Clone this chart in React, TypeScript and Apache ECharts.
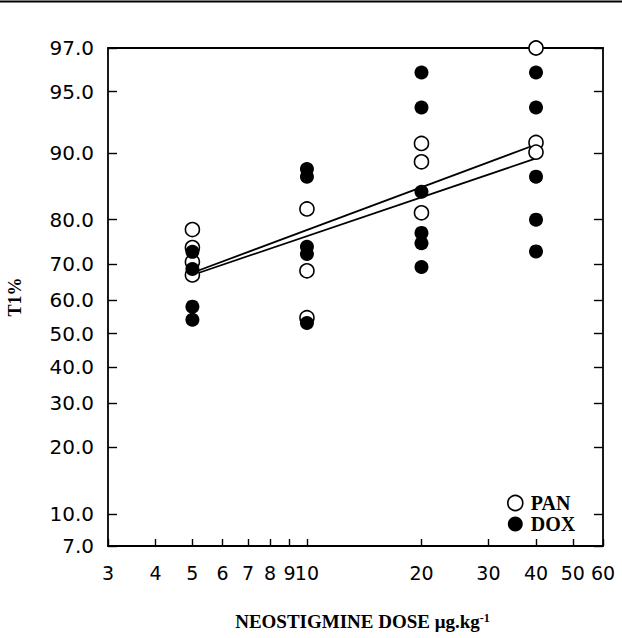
import React, { useEffect, useRef } from 'react';
import * as echarts from 'echarts';

// Axis ticks
const doseTicks = [3, 4, 5, 6, 7, 8, 9, 10, 20, 30, 40, 50, 60];
const percentTicks = [7, 10, 20, 30, 40, 50, 60, 70, 80, 90, 95, 97];

// PAN (open circles)
const panDoses = [5, 5, 5, 5, 10, 10, 10, 20, 20, 20, 40, 40, 40];
const panT1 = [78.0, 74.0, 70.5, 67.1, 82.0, 68.2, 54.8, 91.0, 89.0, 81.3, 97.0, 91.1, 90.1];

// DOX (filled circles)
const doxDoses = [5, 5, 5, 5, 10, 10, 10, 10, 10, 20, 20, 20, 20, 20, 20, 40, 40, 40, 40, 40];
const doxT1 = [73.0, 68.7, 58.1, 54.2, 88.1, 87.1, 74.2, 72.5, 53.2, 96.0, 94.0, 84.9, 77.3, 75.0, 69.2, 96.0, 94.0, 87.1, 80.0, 73.1];

// Fitted lines
const fitDoses = [5, 40];
const panFitT1 = [67.7, 90.9];
const doxFitT1 = [67.1, 89.4];

const logit = (p: number) => Math.log(p / (100 - p));
const invLogit = (v: number) => 100 / (1 + Math.exp(-v));
const lg = (d: number) => Math.log10(d);

const SERIF = "'Liberation Serif', 'Times New Roman', serif";
const SANS = "'DejaVu Sans', sans-serif";

export default function App() {
  const ref = useRef<HTMLDivElement>(null);
  useEffect(() => {
    document.body.style.margin = '0';
    const chart = echarts.init(ref.current!, null, { renderer: 'svg' });
    const yTickVals = percentTicks.map(logit);
    const xTickVals = doseTicks.map(lg);
    const pts = (ds: number[], ps: number[]) => ds.map((d, i) => [lg(d), logit(ps[i])]);
    const axisLine = { show: true, onZero: false, lineStyle: { color: '#000', width: 1.8 } };
    const option: any = {
      animation: false,
      backgroundColor: '#fff',
      grid: { left: 108, right: 19, top: 48, bottom: 92, containLabel: false, outerBoundsMode: 'none' },
      graphic: [
        { type: 'line', shape: { x1: 0, y1: 1.5, x2: 622, y2: 1.5 }, style: { stroke: '#000', lineWidth: 2 } },
      ],
      xAxis: [
        {
          type: 'value',
          min: lg(3),
          max: lg(60),
          position: 'bottom',
          axisLine,
          splitLine: { show: false },
          axisTick: { show: true, inside: true, length: 7, customValues: xTickVals, lineStyle: { color: '#000', width: 1.4 } },
          axisLabel: {
            show: true,
            customValues: xTickVals,
            hideOverlap: false,
            margin: 17,
            color: '#000',
            fontFamily: SANS,
            fontSize: 19,
            formatter: (v: number) => String(Math.round(Math.pow(10, v))),
          },
          name: 'NEOSTIGMINE DOSE μg.kg{sup|-1}',
          nameLocation: 'middle',
          nameGap: 66,
          nameTextStyle: {
            fontFamily: SERIF,
            fontWeight: 'bold',
            fontSize: 19,
            color: '#000',
            padding: [0, 0, 0, 14],
            rich: {
              sup: { fontFamily: SERIF, fontWeight: 'bold', fontSize: 12, color: '#000', verticalAlign: 'top', lineHeight: 12 },
            },
          },
        },
        {
          type: 'value',
          min: lg(3),
          max: lg(60),
          position: 'top',
          axisLine,
          splitLine: { show: false },
          axisTick: { show: false },
          axisLabel: { show: false },
        },
      ],
      yAxis: [
        {
          type: 'value',
          min: logit(7),
          max: logit(97),
          position: 'left',
          axisLine,
          splitLine: { show: false },
          axisTick: { show: true, inside: true, length: 9, customValues: yTickVals, lineStyle: { color: '#000', width: 1.4 } },
          axisLabel: {
            show: true,
            customValues: yTickVals,
            hideOverlap: false,
            margin: 14,
            color: '#000',
            fontFamily: SANS,
            fontSize: 20,
            formatter: (v: number) => invLogit(v).toFixed(1),
          },
          name: 'T1%',
          nameLocation: 'middle',
          nameGap: 84,
          nameTextStyle: { fontFamily: SERIF, fontWeight: 'bold', fontSize: 18, color: '#000' },
        },
        {
          type: 'value',
          min: logit(7),
          max: logit(97),
          position: 'right',
          axisLine,
          splitLine: { show: false },
          axisTick: { show: true, inside: true, length: 9, customValues: yTickVals, lineStyle: { color: '#000', width: 1.4 } },
          axisLabel: { show: false },
        },
      ],
      legend: {
        orient: 'vertical',
        left: 502,
        top: 488,
        itemWidth: 15,
        itemHeight: 15,
        itemGap: 1,
        textStyle: { fontFamily: SERIF, fontWeight: 'bold', fontSize: 20, color: '#000', padding: [0, 0, 0, 3] },
        data: [
          { name: 'PAN', icon: 'circle', itemStyle: { color: '#fff', borderColor: '#000', borderWidth: 1.6 } },
          { name: 'DOX', icon: 'circle', itemStyle: { color: '#000' } },
        ],
      },
      series: [
        {
          name: 'PAN fit',
          type: 'line',
          data: pts(fitDoses, panFitT1),
          symbol: 'none',
          lineStyle: { color: '#000', width: 1.8 },
          z: 1,
        },
        {
          name: 'DOX fit',
          type: 'line',
          data: pts(fitDoses, doxFitT1),
          symbol: 'none',
          lineStyle: { color: '#000', width: 1.8 },
          z: 1,
        },
        {
          name: 'PAN',
          type: 'scatter',
          data: pts(panDoses, panT1),
          symbol: 'circle',
          symbolSize: 14,
          itemStyle: { color: '#fff', borderColor: '#000', borderWidth: 1.6, opacity: 1 },
          z: 2,
        },
        {
          name: 'DOX',
          type: 'scatter',
          data: pts(doxDoses, doxT1),
          symbol: 'circle',
          symbolSize: 14,
          itemStyle: { color: '#000', opacity: 1 },
          z: 3,
        },
      ],
    };
    chart.setOption(option);
    return () => chart.dispose();
  }, []);
  return <div ref={ref} style={{ width: 622, height: 638 }} />;
}
